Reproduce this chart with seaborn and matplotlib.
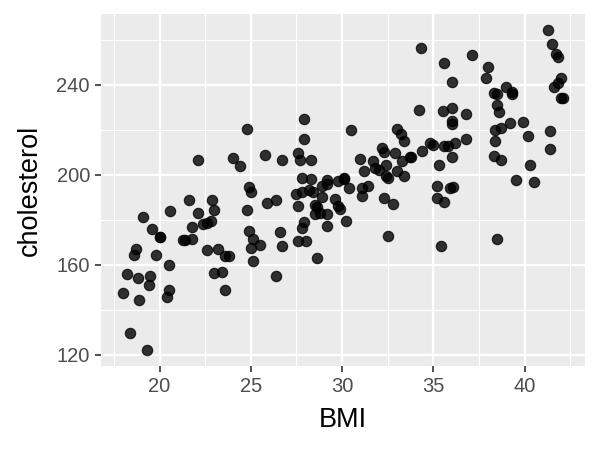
import pandas as pd
import numpy as np
import matplotlib
matplotlib.use('Agg')
import matplotlib.pyplot as plt
import seaborn as sns
from matplotlib.ticker import MultipleLocator

# values
bmi = [22.1, 24.0, 24.4, 25.8, 24.9, 25.0, 25.9, 21.6, 22.9, 19.1,
       20.6, 22.1, 23.0, 24.8, 19.6, 20.0, 20.0, 21.8, 22.4, 22.6,
       22.8, 21.3, 21.4, 21.8, 18.7, 18.6, 19.8, 20.5, 22.6, 23.2,
       23.6, 23.8, 24.9, 25.1, 25.5, 25.0, 25.1, 18.2, 18.8, 19.5,
       19.4, 18.0, 18.9, 20.5, 20.4, 23.0, 23.4, 23.6, 18.4, 19.3,
       24.8,
       34.2, 27.9, 30.5, 33.0, 33.2, 33.4, 27.9, 26.7, 27.6, 27.7,
       28.3, 32.2, 32.3, 31.0, 31.7, 31.2, 31.8, 32.0, 32.4, 32.9,
       33.3, 33.7, 33.8, 34.4, 34.8, 33.0, 32.4, 32.5, 33.4, 27.8,
       28.3, 29.2, 29.8, 30.1, 30.1, 30.4, 31.1, 31.1, 31.4, 32.3,
       32.8, 27.5, 27.8, 28.2, 28.4, 28.9, 29.2, 28.9, 29.6, 26.4,
       27.6, 28.5, 28.6, 29.8, 29.9, 28.5, 28.8, 29.2, 30.2, 27.9,
       27.8, 29.2, 26.6, 27.6, 28.0, 26.7, 32.5, 28.6, 26.4,
       41.3, 41.5, 41.7, 41.8, 42.0, 41.8, 41.6, 42.0, 42.1, 37.1,
       35.6, 38.0, 37.9, 36.0, 34.3, 39.0, 39.3, 39.3, 38.3, 38.5,
       38.5, 38.6, 35.5, 36.0, 36.8, 36.0, 36.0, 39.2, 39.9, 38.4,
       38.7, 38.4, 40.2, 41.4, 41.4, 35.0, 35.6, 35.8, 36.2, 36.8,
       36.0, 35.3, 38.3, 38.7, 40.3, 39.5, 40.5, 35.2, 35.9, 36.1,
       35.2, 35.6, 38.5, 35.4]

cholesterol = [206.7, 207.6, 204.0, 208.9, 194.7, 192.4, 187.6, 188.9, 188.9, 181.3,
               184.0, 183.1, 184.4, 184.4, 176.0, 172.4, 172.4, 176.9, 178.2, 178.7,
               179.6, 171.1, 171.1, 171.6, 167.1, 164.4, 164.4, 160.0, 166.7, 167.1,
               164.0, 164.0, 175.1, 171.6, 168.9, 167.6, 161.8, 156.0, 154.2, 155.1,
               151.1, 147.6, 144.4, 148.9, 145.8, 156.4, 156.9, 148.9, 129.8, 122.2,
               220.4,
               228.9, 224.9, 220.0, 220.4, 218.2, 215.1, 216.0, 206.7, 209.8, 206.7,
               206.7, 212.0, 210.2, 207.1, 206.2, 201.8, 203.1, 202.2, 204.4, 209.8,
               206.2, 208.0, 208.0, 210.7, 214.2, 201.8, 199.6, 198.7, 199.6, 198.7,
               198.2, 197.8, 197.3, 198.2, 198.7, 194.2, 194.2, 190.7, 195.1, 189.8,
               187.1, 191.6, 192.4, 193.3, 192.4, 195.1, 196.0, 190.2, 189.3, 188.9,
               186.2, 186.7, 185.8, 186.2, 184.9, 182.7, 183.1, 182.7, 179.6, 179.1,
               176.4, 177.3, 174.7, 170.7, 170.7, 168.4, 172.9, 163.1, 155.1,
               264.4, 258.2, 253.8, 252.4, 243.1, 240.9, 239.1, 234.2, 234.2, 253.3,
               249.8, 248.0, 243.1, 241.3, 256.4, 239.1, 236.9, 236.0, 236.4, 236.0,
               231.1, 228.0, 228.4, 229.8, 227.1, 224.0, 222.7, 223.1, 223.6, 220.0,
               220.9, 215.1, 217.3, 219.6, 211.6, 213.3, 212.9, 212.9, 214.2, 216.0,
               208.0, 204.4, 208.4, 206.7, 204.4, 197.8, 196.9, 195.1, 194.2, 194.7,
               189.8, 188.0, 171.6, 168.4]

x_ticks = [20, 25, 30, 35, 40]
y_ticks = [120, 160, 200, 240]

df = pd.DataFrame({'BMI': bmi, 'cholesterol': cholesterol})

plt.rcParams['font.family'] = ['Liberation Sans', 'DejaVu Sans']

fig = plt.figure(figsize=(6, 4.5), dpi=100)
ax = fig.add_axes([101 / 600, 84 / 450, 484 / 600, 352 / 450])
ax.set_facecolor('#EBEBEB')

sns.scatterplot(data=df, x='BMI', y='cholesterol', ax=ax, color='black',
                alpha=0.8, s=56, edgecolor='black', linewidth=0.8, zorder=3)

# ggplot style 5% expansion
xr = max(bmi) - min(bmi)
yr = max(cholesterol) - min(cholesterol)
ax.set_xlim(min(bmi) - 0.05 * xr, max(bmi) + 0.05 * xr)
ax.set_ylim(min(cholesterol) - 0.05 * yr, max(cholesterol) + 0.05 * yr)

ax.set_xticks(x_ticks)
ax.set_yticks(y_ticks)
ax.xaxis.set_minor_locator(MultipleLocator(2.5))
ax.yaxis.set_minor_locator(MultipleLocator(20))
ax.grid(which='major', color='white', linewidth=1.6, zorder=0)
ax.grid(which='minor', color='white', linewidth=0.8, zorder=0)
ax.set_axisbelow(True)
for sp in ax.spines.values():
    sp.set_visible(False)

ax.tick_params(which='major', length=4.5, width=1.2, color='#333333',
               labelsize=14.5, labelcolor='#4D4D4D', pad=3.5)
ax.tick_params(which='minor', length=0)

ax.set_xlabel('BMI', fontsize=19.5, color='black', labelpad=8)
ax.set_ylabel('cholesterol', fontsize=19.5, color='black', labelpad=10)

fig.savefig('out.png', dpi=100, facecolor='white')
